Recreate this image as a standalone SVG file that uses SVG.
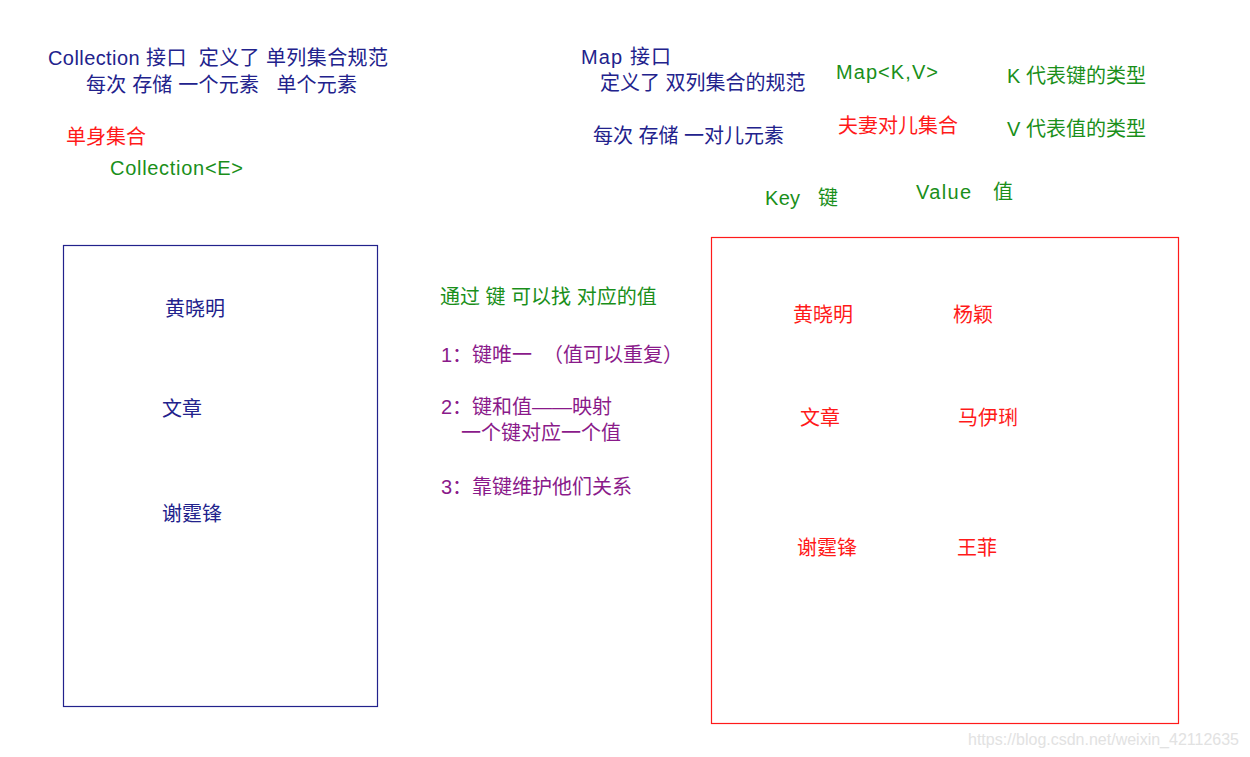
<svg xmlns="http://www.w3.org/2000/svg" width="1250" height="757" viewBox="0 0 1250 757">
<style>
text{font-family:"Liberation Sans","Noto Sans CJK SC",sans-serif;font-size:20px;white-space:pre}
.b{fill:#22228c}
.g{fill:#1a8f1a}
.r{fill:#ff1a1a}
.p{fill:#8a1a8a}
.w{fill:#e2e2e2;font-size:16px}
</style>
<rect width="1250" height="757" fill="#fff"/>
<g id="collection-notes">
<text class="b" x="48" y="65" textLength="340" lengthAdjust="spacing">Collection 接口  定义了 单列集合规范</text>
<text class="b" x="86" y="92" textLength="271" lengthAdjust="spacing">每次 存储 一个元素   单个元素</text>
<text class="r" x="66" y="144">单身集合</text>
<text class="g" x="110" y="175" textLength="133" lengthAdjust="spacing">Collection&lt;E&gt;</text>
</g>
<g id="map-notes">
<text class="b" x="581" y="64" textLength="90" lengthAdjust="spacing">Map 接口</text>
<text class="b" x="600" y="90">定义了 双列集合的规范</text>
<text class="b" x="593" y="143">每次 存储 一对儿元素</text>
<text class="g" x="836" y="79" textLength="102" lengthAdjust="spacing">Map&lt;K,V&gt;</text>
<text class="g" x="1007" y="83">K 代表键的类型</text>
<text class="r" x="838" y="133">夫妻对儿集合</text>
<text class="g" x="1007" y="136">V 代表值的类型</text>
<text class="g" x="765" y="205" textLength="73" lengthAdjust="spacing">Key   键</text>
<text class="g" x="916" y="199" textLength="97" lengthAdjust="spacing">Value   值</text>
</g>
<g id="collection-box">
<rect x="63.5" y="245.5" width="314" height="461" fill="none" stroke="#22228c" stroke-width="1.2"/>
<text class="b" x="165" y="316">黄晓明</text>
<text class="b" x="162" y="416">文章</text>
<text class="b" x="162" y="521">谢霆锋</text>
</g>
<g id="map-rules">
<text class="g" x="440" y="304">通过 键 可以找 对应的值</text>
<text class="p" x="441" y="362" textLength="242" lengthAdjust="spacing">1：键唯一  （值可以重复）</text>
<text class="p" x="441" y="414">2：键和值——映射</text>
<text class="p" x="461" y="440">一个键对应一个值</text>
<text class="p" x="441" y="494">3：靠键维护他们关系</text>
</g>
<g id="map-box">
<rect x="711.5" y="237.5" width="467" height="486" fill="none" stroke="#ff1a1a" stroke-width="1.2"/>
<text class="r" x="793" y="322">黄晓明</text>
<text class="r" x="953" y="322">杨颖</text>
<text class="r" x="800" y="425">文章</text>
<text class="r" x="958" y="425">马伊琍</text>
<text class="r" x="797" y="555">谢霆锋</text>
<text class="r" x="957" y="555">王菲</text>
</g>
<g id="connectors"></g>
<text class="w" x="968" y="745">https://blog.csdn.net/weixin_42112635</text>
</svg>
